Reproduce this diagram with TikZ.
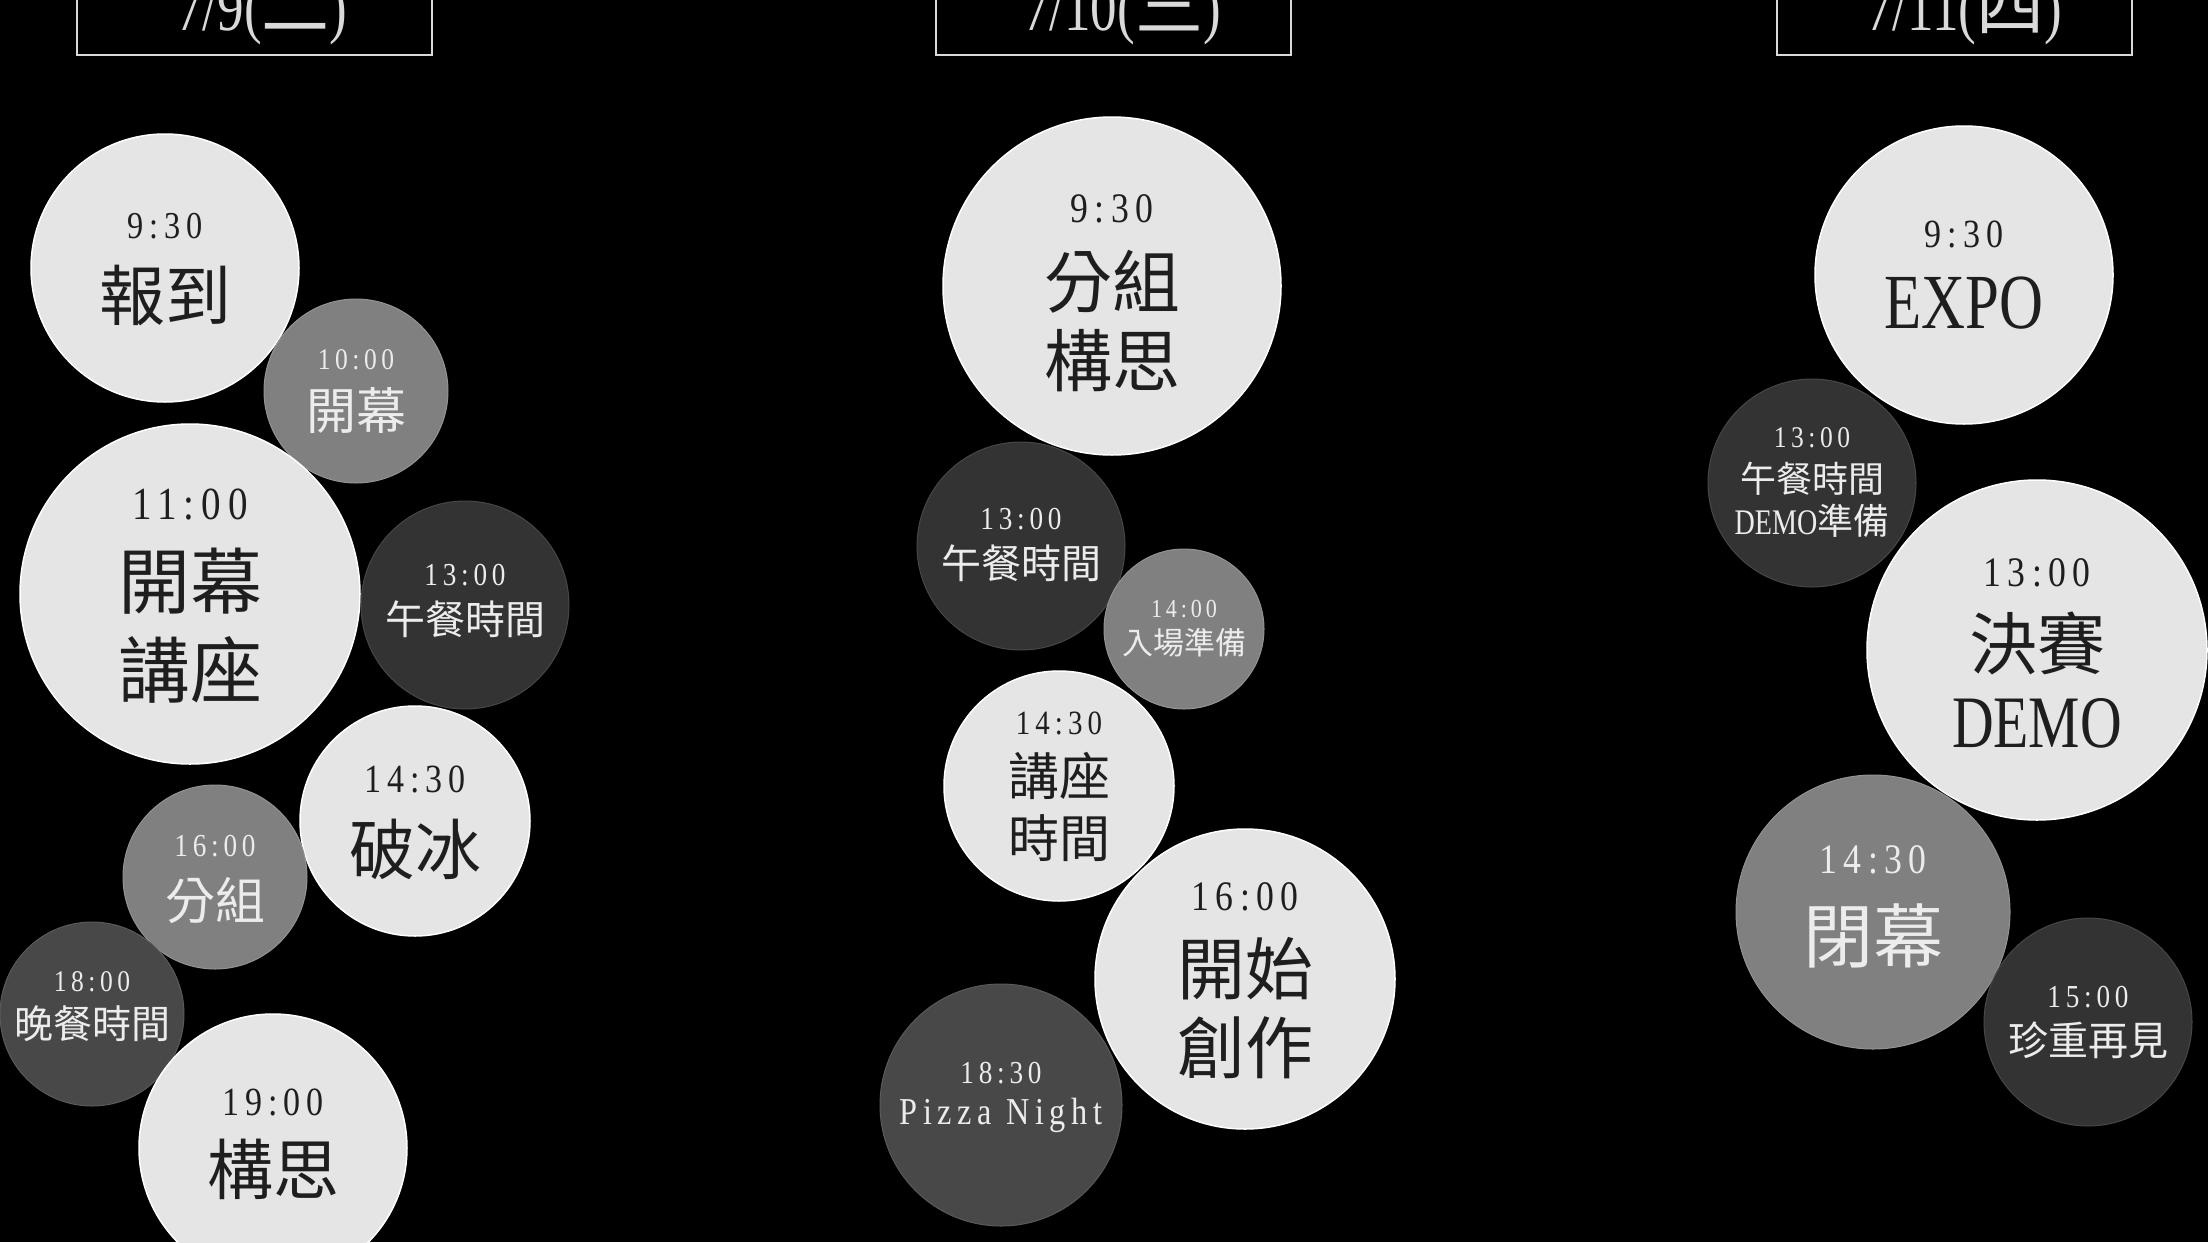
\documentclass[tikz,border=0pt]{standalone}
\usepackage{fontspec}
\setmainfont{Liberation Serif}
\newfontfamily\cjk{Noto Sans CJK TC}
\newfontfamily\lat[FakeStretch=0.78]{Liberation Serif}
\newfontfamily\tim[FakeStretch=0.85,LetterSpace=15]{Liberation Serif}
\newcommand\pxs[1]{\fontsize{#1}{#1}\selectfont}
\definecolor{cLt}{HTML}{E5E5E5}
\definecolor{cMd}{HTML}{808080}
\definecolor{cDk}{HTML}{333333}
\definecolor{cDkb}{HTML}{484848}
\definecolor{cInk}{HTML}{1E1E1E}
\definecolor{cPap}{HTML}{ECECEC}
\tikzset{
  bub/.style={circle, inner sep=0pt, minimum size=#1},
  lt/.style={bub=#1, fill=cLt, draw=white, line width=1.5pt},
  md/.style={bub=#1, fill=cMd, draw=cMd!85!white, line width=1pt},
  dk/.style={bub=#1, fill=cDk, draw=cDk!90!white, line width=1pt},
  dkb/.style={bub=#1, fill=cDkb, draw=cDkb!90!white, line width=1pt},
  tD/.style={inner sep=0pt, text=cInk},
  tL/.style={inner sep=0pt, text=cPap},
  hdr/.style={draw=white!85!black, line width=2pt},
  htxt/.style={inner sep=0pt, anchor=base, text=white!85!black, font=\pxs{68}}
}
\begin{document}
\begin{tikzpicture}[x=1pt,y=-1pt]
\useasboundingbox (0,0) rectangle (2208,1242);
\clip (0,0) rectangle (2208,1242);
\fill[black] (0,0) rectangle (2208,1242);

% headers
\draw[hdr] (77,-60) rectangle (432,55);
\node[htxt] (h1) at (262,30) {{\lat 7/9(}{\cjk 二}{\lat )}};
\draw[hdr] (936,-60) rectangle (1291,55);
\node[htxt] (h2) at (1122,30) {{\lat 7/10(}{\cjk 三}{\lat )}};
\draw[hdr] (1777,-60) rectangle (2132,55);
\node[htxt] (h3) at (1964,30) {{\lat 7/11(}{\cjk 四}{\lat )}};

% column 1
\node[lt=268] (c1) at (165,268) {};
\node[tD,font=\tim\pxs{38}] (c1a) at ([yshift=42pt]c1) {9:30};
\node[tD,font=\cjk\pxs{66}] (c1b) at ([yshift=-28pt]c1) {報到};

\node[md=184] (c2) at (356,391) {};
\node[tL,font=\tim\pxs{30}] (c2a) at ([yshift=31pt]c2) {10:00};
\node[tL,font=\cjk\pxs{50}] (c2b) at ([yshift=-20pt]c2) {開幕};

\node[lt=340] (c3) at (190,594) {};
\node[tD,font=\tim\pxs{46}] (c3a) at ([yshift=89pt]c3) {11:00};
\node[tD,font=\cjk\pxs{72}] (c3b) at ([yshift=13pt]c3) {開幕};
\node[tD,font=\cjk\pxs{72}] (c3c) at ([yshift=-76pt]c3) {講座};

\node[dk=208] (c4) at (465,605) {};
\node[tL,font=\tim\pxs{32}] (c4a) at ([yshift=30pt]c4) {13:00};
\node[tL,font=\cjk\pxs{40}] (c4b) at ([yshift=-14pt]c4) {午餐時間};

\node[lt=230] (c5) at (415,821) {};
\node[tD,font=\tim\pxs{40}] (c5a) at ([yshift=42pt]c5) {14:30};
\node[tD,font=\cjk\pxs{66}] (c5b) at ([yshift=-28pt]c5) {破冰};

\node[md=184] (c6) at (215,877) {};
\node[tL,font=\tim\pxs{32}] (c6a) at ([yshift=31pt]c6) {16:00};
\node[tL,font=\cjk\pxs{50}] (c6b) at ([yshift=-24pt]c6) {分組};

\node[dkb=184] (c7) at (92,1014) {};
\node[tL,font=\tim\pxs{30}] (c7a) at ([yshift=32pt]c7) {18:00};
\node[tL,font=\cjk\pxs{39}] (c7b) at ([yshift=-10pt]c7) {晚餐時間};

\node[lt=268] (c8) at (273,1148) {};
\node[tD,font=\tim\pxs{40}] (c8a) at ([yshift=46pt]c8) {19:00};
\node[tD,font=\cjk\pxs{66}] (c8b) at ([yshift=-21pt]c8) {構思};

% column 2
\node[lt=338] (d1) at (1112,286) {};
\node[tD,font=\tim\pxs{42}] (d1a) at ([yshift=77pt]d1) {9:30};
\node[tD,font=\cjk\pxs{68}] (d1b) at ([yshift=4pt]d1) {分組};
\node[tD,font=\cjk\pxs{68}] (d1c) at ([yshift=-75pt]d1) {構思};

\node[dk=208] (d2) at (1021,546) {};
\node[tL,font=\tim\pxs{32}] (d2a) at ([yshift=27pt]d2) {13:00};
\node[tL,font=\cjk\pxs{40}] (d2b) at ([yshift=-17pt]d2) {午餐時間};

\node[md=160] (d3) at (1184,629) {};
\node[tL,font=\tim\pxs{26}] (d3a) at ([yshift=20pt]d3) {14:00};
\node[tL,font=\cjk\pxs{31}] (d3b) at ([yshift=-14pt]d3) {入場準備};

\node[lt=230] (d4) at (1059,786) {};
\node[tD,font=\tim\pxs{34}] (d4a) at ([yshift=63pt]d4) {14:30};
\node[tD,font=\cjk\pxs{51}] (d4b) at ([yshift=10pt]d4) {講座};
\node[tD,font=\cjk\pxs{51}] (d4c) at ([yshift=-52pt]d4) {時間};

\node[lt=300] (d5) at (1245,979) {};
\node[tD,font=\tim\pxs{42}] (d5a) at ([yshift=82pt]d5) {16:00};
\node[tD,font=\cjk\pxs{68}] (d5b) at ([yshift=10pt]d5) {開始};
\node[tD,font=\cjk\pxs{68}] (d5c) at ([yshift=-69pt]d5) {創作};

\node[dkb=242] (d6) at (1001,1105) {};
\node[tL,font=\tim\pxs{32}] (d6a) at ([yshift=32pt]d6) {18:30};
\node[tL,font=\tim\pxs{38}] (d6b) at ([yshift=-10pt]d6) {Pizza Night};

% column 3
\node[lt=298] (e1) at (1964,275) {};
\node[tD,font=\tim\pxs{40}] (e1a) at ([yshift=41pt]e1) {9:30};
\node[tD,font=\lat\pxs{78}] (e1b) at ([yshift=-28pt]e1) {EXPO};

\node[dk=208] (e2) at (1812,483) {};
\node[tL,font=\tim\pxs{30}] (e2a) at ([yshift=45pt]e2) {13:00};
\node[tL,font=\cjk\pxs{36}] (e2b) at ([yshift=4pt]e2) {午餐時間};
\node[tL,font=\pxs{36}] (e2c) at ([yshift=-38pt]e2) {{\lat DEMO}{\cjk 準備}};

\node[lt=340] (e3) at (2037,650) {};
\node[tD,font=\tim\pxs{42}] (e3a) at ([yshift=77pt]e3) {13:00};
\node[tD,font=\cjk\pxs{68}] (e3b) at ([yshift=7pt]e3) {決賽};
\node[tD,font=\lat\pxs{74}] (e3c) at ([yshift=-73pt]e3) {DEMO};

\node[md=274] (e4) at (1873,912) {};
\node[tL,font=\tim\pxs{42}] (e4a) at ([yshift=52pt]e4) {14:30};
\node[tL,font=\cjk\pxs{70}] (e4b) at ([yshift=-24pt]e4) {閉幕};

\node[dk=208] (e5) at (2088,1022) {};
\node[tL,font=\tim\pxs{32}] (e5a) at ([yshift=25pt]e5) {15:00};
\node[tL,font=\cjk\pxs{40}] (e5b) at ([yshift=-18pt]e5) {珍重再見};
\end{tikzpicture}
\end{document}
